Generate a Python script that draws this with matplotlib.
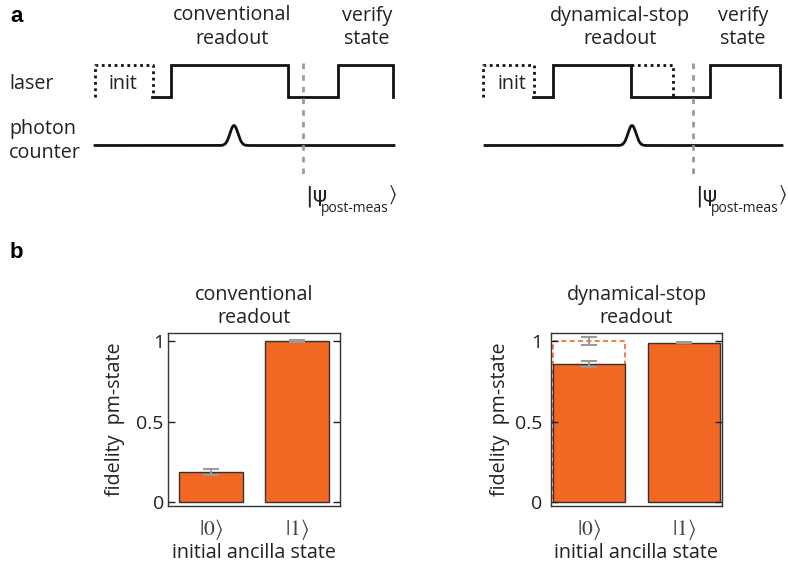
import numpy as np
import matplotlib
matplotlib.use("Agg")
import matplotlib.pyplot as plt

plt.rcParams['font.family'] = ['Open Sans', 'DejaVu Sans']
plt.rcParams['mathtext.fontset'] = 'stix'

# ---- panel a: pulse sequences (x = time in picture px, level 0 = off, 1 = on)
conv_laser_t = [152, 171, 288, 338, 393]
conv_laser_lv = [0, 1, 0, 1, 0]
conv_init_t = [95, 95, 153, 153]
conv_init_lv = [0, 1, 1, 0]
conv_counter = (95, 394)
conv_click = 234
conv_cut = 303

dyn_laser_t = [533, 553, 631, 710, 780]
dyn_laser_lv = [0, 1, 0, 1, 0]
dyn_init_t = [483, 483, 534, 534]
dyn_init_lv = [0, 1, 1, 0]
dyn_skip_t = [631, 673, 673]
dyn_skip_lv = [1, 1, 0]
dyn_counter = (485, 782)
dyn_click = 632
dyn_cut = 693

# ---- panel b: fidelity of post-measurement state
states = [r'$|0\rangle$', r'$|1\rangle$']
conv_fid = [0.184, 1.0]
conv_err = [0.018, 0.004]
dyn_fid = [0.859, 0.99]
dyn_err = [0.02, 0.004]
dyn_post = 1.0        # dashed bar: postselected
dyn_post_err = 0.023

orange = '#F26722'
gray = '#9a9a9a'
ink = '#222222'
fs = 14.2

fig = plt.figure(figsize=(7.88, 5.68), dpi=100)

# overlay axes in picture coordinates for the schematic
ov = fig.add_axes([0, 0, 1, 1])
ov.set_xlim(0, 788)
ov.set_ylim(568, 0)
ov.axis('off')

laser_y0, laser_h = 96.5, 32
cnt_y = 145.5


def lvl(lv):
    return [laser_y0 - laser_h * v for v in lv]


def pulse(x0, x1, xc):
    x = np.linspace(x0, x1, 600)
    return x, cnt_y - 20 * np.exp(-0.5 * ((x - xc) / 4.0) ** 2)


for lt, llv, it, ilv, cnt, click, cut in [
        (conv_laser_t, conv_laser_lv, conv_init_t, conv_init_lv, conv_counter, conv_click, conv_cut),
        (dyn_laser_t, dyn_laser_lv, dyn_init_t, dyn_init_lv, dyn_counter, dyn_click, dyn_cut)]:
    ov.step(lt, lvl(llv), where='post', color='#111111', lw=2, solid_joinstyle='miter')
    ov.plot(it, lvl(ilv), color='#111111', lw=2, ls=(0, (1, 1.3)))
    px, py = pulse(cnt[0], cnt[1], click)
    ov.plot(px, py, color='#111111', lw=2)
    ov.plot([cut, cut], [63, 176], color=gray, lw=2, ls=(0, (2, 2.2)))
    ov.text(cut + 2, 196, '|ψ', fontsize=16, va='center', ha='left',
            family=['DejaVu Sans'], color=ink)
    ov.text(cut + 18, 208, 'post-meas', fontsize=10, va='center', ha='left', color=ink)
    ov.text(cut + 85, 195, r'$\rangle$', fontsize=15, va='center', ha='left', color=ink)

ov.plot(dyn_skip_t, lvl(dyn_skip_lv), color='#111111', lw=2, ls=(0, (1, 1.3)))

txt = dict(fontsize=fs, color=ink, va='center')
ov.text(10, 16, 'a', fontsize=16, fontweight='bold', va='center', family=['Liberation Sans'])
ov.text(10, 253, 'b', fontsize=16, fontweight='bold', va='center', family=['Liberation Sans'])
ov.text(9, 84, 'laser', ha='left', **txt)
ov.text(9, 141, 'photon\ncounter', ha='left', linespacing=1.25, **txt)
ov.text(123, 84, 'init', ha='center', **txt)
ov.text(512, 84, 'init', ha='center', **txt)
ov.text(232, 27, 'conventional\nreadout', ha='center', linespacing=1.2, **txt)
ov.text(367, 27, 'verify\nstate', ha='center', linespacing=1.2, **txt)
ov.text(620, 27, 'dynamical-stop\nreadout', ha='center', linespacing=1.2, **txt)
ov.text(743, 27, 'verify\nstate', ha='center', linespacing=1.2, **txt)

# ---- bar panels
W, H = 788, 568


def bar_axes(x0, x1, xlim, title, ylx, tpad):
    ax = fig.add_axes([x0 / W, 1 - 506 / H, (x1 - x0) / W, 173 / H])
    ax.set_xlim(*xlim)
    ax.set_ylim(-0.025, 1.05)
    ax.set_yticks([0, 0.5, 1])
    ax.set_yticklabels(['0', '0.5', '1'])
    ax.tick_params(axis='y', direction='in', left=True, right=True, length=5,
                   width=1, labelsize=14, pad=tpad, colors=ink)
    ax.tick_params(axis='x', length=0, pad=8, labelsize=15.5)
    ax.set_xticks([0, 1])
    ax.set_xticklabels(states, color='#444444')
    for s in ax.spines.values():
        s.set_color('#333333')
        s.set_linewidth(1)
    ax.set_title(title, fontsize=fs, color=ink, pad=7, linespacing=1.2)
    ax.set_ylabel('fidelity  pm-state', fontsize=fs, color=ink)
    ax.yaxis.set_label_coords(ylx, 0.5)
    ax.set_xlabel('initial ancilla state', fontsize=fs, color=ink, labelpad=1)
    return ax


ek = dict(ecolor=gray, elinewidth=1.5, capsize=6, capthick=1.5)

ax1 = bar_axes(168, 340, (-0.5, 1.5), 'conventional\nreadout', -0.25, 3)
ax1.bar([0, 1], conv_fid, width=0.75, color=orange, edgecolor='#333333', linewidth=1,
        yerr=conv_err, error_kw=ek)

ax2 = bar_axes(551, 722, (-0.4, 1.4), 'dynamical-stop\nreadout', -0.24, 6)
ax2.bar([0], [dyn_post], width=0.75, fill=False, edgecolor=orange, linewidth=1.2,
        linestyle=(0, (3, 2)), yerr=[dyn_post_err], error_kw=ek)
ax2.bar([0, 1], dyn_fid, width=0.75, color=orange, edgecolor='#333333', linewidth=1,
        yerr=dyn_err, error_kw=ek)

fig.savefig('out.png', dpi=100)
